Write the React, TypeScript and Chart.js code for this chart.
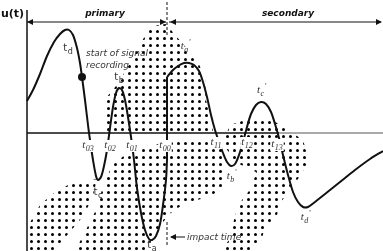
import React, { useEffect, useRef } from "react";
import { Chart, registerables } from "chart.js";

Chart.register(...registerables);

// time values (arbitrary units) and u(t) values of the schematic signal
const primaryT = [0, 6, 13, 20, 27, 33, 38, 42, 46, 50, 53, 55, 58, 61, 63, 66, 69, 71, 74, 77, 80, 83, 86, 89, 92, 95, 98, 101, 104, 107, 110, 114, 118, 122, 125, 129, 133, 136, 139, 140];
const primaryU = [32, 43, 59, 77, 91, 99, 103, 103, 98, 85, 70, 56, 33, 8, -7, -27, -43, -47, -44, -33, -17, 5, 26, 40, 45, 43, 33, 16, -4, -27, -55, -80, -97, -106, -107, -103, -91, -72, -47, -27];
const jumpT = [140, 140];
const jumpU = [-27, 56];
const secondaryT = [140, 145, 151, 157, 162, 167, 172, 176, 180, 184, 188, 192, 196, 200, 204, 208, 212, 216, 220, 224, 229, 234, 239, 244, 248, 252, 256, 261, 266, 271, 276, 281, 288, 298, 313, 328, 343, 356];
const secondaryU = [56, 62, 67, 70, 70, 68, 62, 51, 36, 18, 3, -9, -20, -29, -33, -31, -22, -9, 6, 19, 28, 31, 29, 21, 9, -5, -22, -42, -59, -69, -74, -74, -69, -61, -49, -37, -26, -18];

// signal-recording start point
const recordStartT = 55;
const recordStartU = 56;
const impactT = 140;

// dotted (stippled) regions, as [t, u] outlines
const regionA = [[79, -2], [79, 35], [89, 47], [99, 63], [109, 81], [119, 99], [125, 107], [139, 109], [149, 97], [161, 83], [171, 71], [178, 55], [179, 33], [183, 15], [187, -2]];
const regionB = [[85, -32], [98, -22], [118, -15], [138, -9], [163, -5], [188, -7], [195, -17], [195, -57], [178, -65], [158, -70], [141, -82], [128, -102], [118, -118], [48, -118], [58, -99], [68, -79], [75, -57]];
const regionC = [[43, -51], [70, -46], [65, -67], [53, -87], [36, -107], [26, -118], [0, -118], [0, -95], [13, -72], [28, -59]];
const regionD = [[203, 8], [218, 13], [245, 13], [258, 5], [276, -7], [282, -27], [274, -42], [264, -55], [254, -69], [250, -82], [238, -95], [234, -108], [222, -118], [194, -118], [202, -107], [205, -94], [209, -80], [215, -67], [225, -54], [229, -39], [208, -29], [199, -15], [199, -2]];

// labels: [main, subscript, prime, t, u, style]
const labels: [string, string, boolean, number, number, string][] = [
  ["t", "d", false, 41, 84, "sans"],
  ["t", "b", false, 92, 55, "sans"],
  ["t", "a", true, 159, 86, "serif"],
  ["t", "03", false, 61, -13, "serif"],
  ["t", "02", false, 83, -13, "serif"],
  ["t", "01", false, 105, -13, "serif"],
  ["t", "00", false, 138, -13, "serif"],
  ["t", "c", false, 71, -60, "sans"],
  ["t", "a", false, 125, -113, "sans"],
  ["t", "11", false, 189, -10, "serif"],
  ["t", "12", false, 220, -10, "serif"],
  ["t", "13", false, 250, -12, "serif"],
  ["t", "b", true, 205, -44, "serif"],
  ["t", "c", true, 235, 42, "serif"],
  ["t", "d", true, 279, -85, "serif"],
];

const toXY = (ts: number[], us: number[]) => ts.map((t, i) => ({ x: t, y: us[i] }));

function makePattern(ctx: CanvasRenderingContext2D) {
  const pc = document.createElement("canvas");
  pc.width = 7;
  pc.height = 7;
  const p = pc.getContext("2d")!;
  p.fillStyle = "#000";
  p.beginPath();
  p.arc(3.5, 3.5, 1.5, 0, Math.PI * 2);
  p.fill();
  return ctx.createPattern(pc, "repeat");
}

function arrowHead(ctx: CanvasRenderingContext2D, x: number, y: number, dir: number) {
  ctx.beginPath();
  ctx.moveTo(x, y);
  ctx.lineTo(x - dir * 6, y - 3);
  ctx.lineTo(x - dir * 6, y + 3);
  ctx.closePath();
  ctx.fill();
}

const schematicPlugin = {
  id: "schematic",
  beforeDatasetsDraw(chart: any) {
    const ctx: CanvasRenderingContext2D = chart.ctx;
    const xs = chart.scales.x;
    const ys = chart.scales.y;
    const px = (t: number) => xs.getPixelForValue(t);
    const py = (u: number) => ys.getPixelForValue(u);
    ctx.save();
    const pat = makePattern(ctx);
    if (pat) ctx.fillStyle = pat;
    for (const reg of [regionA, regionB, regionC, regionD]) {
      ctx.beginPath();
      reg.forEach(([t, u], i) => {
        if (i === 0) ctx.moveTo(px(t), py(u));
        else ctx.lineTo(px(t), py(u));
      });
      ctx.closePath();
      ctx.fill();
    }
    // axes
    ctx.strokeStyle = "#111";
    ctx.lineWidth = 1.5;
    ctx.beginPath();
    ctx.moveTo(px(0), py(123));
    ctx.lineTo(px(0), py(-118));
    ctx.stroke();
    ctx.beginPath();
    ctx.moveTo(px(0), py(0));
    ctx.lineTo(px(252), py(0));
    ctx.stroke();
    ctx.strokeStyle = "#555";
    ctx.lineWidth = 1;
    ctx.beginPath();
    ctx.moveTo(px(252), py(0));
    ctx.lineTo(px(356), py(0));
    ctx.stroke();
    ctx.restore();
  },
  afterDatasetsDraw(chart: any) {
    const ctx: CanvasRenderingContext2D = chart.ctx;
    const xs = chart.scales.x;
    const ys = chart.scales.y;
    const px = (t: number) => xs.getPixelForValue(t);
    const py = (u: number) => ys.getPixelForValue(u);
    ctx.save();
    ctx.fillStyle = "#111";
    ctx.strokeStyle = "#111";

    // recording start point
    ctx.beginPath();
    ctx.arc(px(recordStartT), py(recordStartU), 4, 0, Math.PI * 2);
    ctx.fill();

    // top arrows
    const yTop = py(111);
    ctx.lineWidth = 1;
    ctx.beginPath();
    ctx.moveTo(px(0), yTop);
    ctx.lineTo(px(impactT - 1), yTop);
    ctx.moveTo(px(impactT + 2), yTop);
    ctx.lineTo(px(354), yTop);
    ctx.stroke();
    arrowHead(ctx, px(0), yTop, -1);
    arrowHead(ctx, px(impactT - 1), yTop, 1);
    arrowHead(ctx, px(impactT + 3), yTop, -1);
    arrowHead(ctx, px(355), yTop, 1);

    // dashed impact-time markers
    ctx.setLineDash([3, 2]);
    ctx.beginPath();
    ctx.moveTo(px(impactT), py(131));
    ctx.lineTo(px(impactT), py(97));
    ctx.moveTo(px(impactT), py(-89));
    ctx.lineTo(px(impactT), py(-112));
    ctx.stroke();
    ctx.setLineDash([]);
    ctx.beginPath();
    ctx.moveTo(px(impactT + 4), py(-104));
    ctx.lineTo(px(impactT + 18), py(-104));
    ctx.stroke();
    arrowHead(ctx, px(impactT + 3), py(-104), -1);

    // axis title and section titles
    ctx.textBaseline = "alphabetic";
    ctx.font = "bold 11px 'DejaVu Sans'";
    ctx.textAlign = "left";
    ctx.fillText("u(t)", px(-26), py(116));
    ctx.font = "italic bold 9px 'DejaVu Sans'";
    ctx.textAlign = "center";
    ctx.fillText("primary", px(78), py(117));
    ctx.fillText("secondary", px(261), py(117));

    // annotations
    ctx.fillStyle = "#333";
    ctx.font = "italic 9px 'DejaVu Sans'";
    ctx.textAlign = "left";
    ctx.fillText("start of signal", px(59), py(77));
    ctx.fillText("recording", px(59), py(65));
    ctx.fillText("impact time", px(impactT + 20), py(-107));

    // t labels
    for (const [main, sub, prime, t, u, style] of labels) {
      const mainFont = style === "serif" ? "italic 11px 'Liberation Serif'" : "10px 'DejaVu Sans'";
      const subFont = style === "serif" ? "italic 8px 'Liberation Serif'" : "8px 'DejaVu Sans'";
      ctx.font = mainFont;
      const wMain = ctx.measureText(main).width;
      ctx.font = subFont;
      const wSub = ctx.measureText(sub).width;
      const wPrime = prime ? 3 : 0;
      const total = wMain + wSub + wPrime + 0.5;
      const cx = px(t);
      const cy = py(u);
      const x0 = cx - total / 2;
      if (sub.length === 2) {
        ctx.fillStyle = "#fff";
        ctx.fillRect(x0 - 1, cy - 6, total + 2, 12);
      }
      ctx.fillStyle = "#333";
      ctx.textAlign = "left";
      ctx.font = mainFont;
      ctx.fillText(main, x0, cy + 2);
      ctx.font = subFont;
      ctx.fillText(sub, x0 + wMain + 0.5, cy + 5);
      if (prime) {
        ctx.font = "italic 8px 'Liberation Serif'";
        ctx.fillText("'", x0 + wMain + wSub + 1, cy - 2);
      }
    }
    ctx.restore();
  },
};

export default function App() {
  const ref = useRef<HTMLCanvasElement | null>(null);
  useEffect(() => {
    if (!ref.current) return;
    const common = { pointRadius: 0, borderColor: "#111", borderWidth: 2, fill: false };
    const chart = new Chart(ref.current, {
      type: "line",
      data: {
        datasets: [
          { ...common, data: toXY(primaryT, primaryU), tension: 0.3 },
          { ...common, data: toXY(jumpT, jumpU), tension: 0 },
          { ...common, data: toXY(secondaryT, secondaryU), tension: 0.3 },
        ],
      },
      options: {
        animation: false,
        responsive: false,
        events: [],
        layout: { padding: 0 },
        plugins: { legend: { display: false }, tooltip: { enabled: false } },
        scales: {
          x: { type: "linear", min: -27, max: 356, display: false },
          y: { type: "linear", min: -118, max: 133, display: false },
        },
      },
      plugins: [schematicPlugin],
    } as any);
    return () => chart.destroy();
  }, []);
  return (
    <div style={{ position: "absolute", left: 0, top: 0, width: 383, height: 251, background: "#fff" }}>
      <canvas ref={ref} width={383} height={251} style={{ width: 383, height: 251, display: "block" }} />
    </div>
  );
}
